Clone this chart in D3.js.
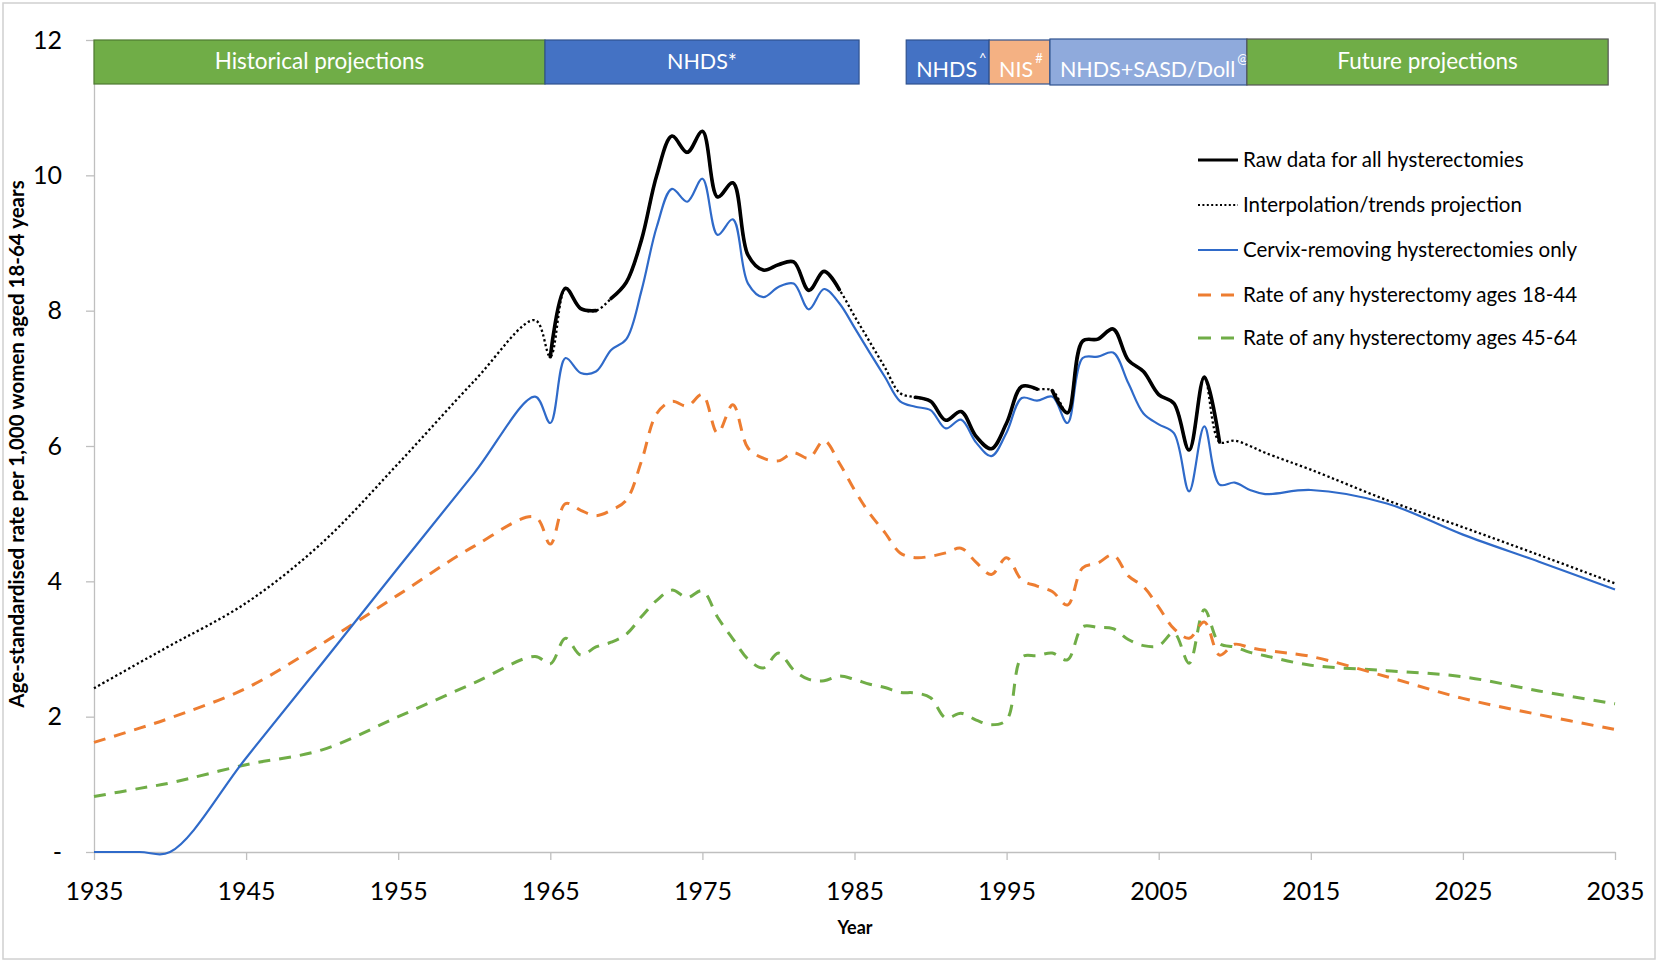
<!DOCTYPE html>
<html><head><meta charset="utf-8">
<script src="https://cdn.jsdelivr.net/npm/d3@7"></script>
<style>
body{margin:0;background:#fff;}
text{font-family:Lato,"Open Sans",sans-serif;}
</style></head><body>
<svg id="chart" width="1658" height="962"></svg>
<script>
// ---------- DATA ----------
const years = [1935,1938,1940,1945,1950,1955,1960,1964,
  1965,1966,1967,1968,1969,1970,1971,1972,1973,1974,1975,1976,1977,1978,1979,1980,1981,1982,1983,1984,
  1985,1986,1987,1988,1989,1990,1991,1992,1993,1994,1995,1996,1997,1998,1999,2000,2001,2002,2003,2004,
  2005,2006,2007,2008,2009,2010,2011,2012,
  2015,2020,2025,2030,2035];

// Raw data / interpolation for all hysterectomies
const allHysterectomies = [2.42,2.8,3.05,3.68,4.57,5.74,6.96,7.86,
  7.32,8.33,8.03,8.0,8.18,8.42,9.05,10.0,10.58,10.34,10.65,9.68,9.89,8.82,8.6,8.68,8.72,8.3,8.58,8.31,
  7.92,7.54,7.16,6.78,6.72,6.66,6.38,6.51,6.14,5.96,6.34,6.88,6.84,6.82,6.49,7.55,7.58,7.73,7.27,7.1,
  6.76,6.63,5.94,7.02,6.06,6.08,6.0,5.9,
  5.65,5.2,4.8,4.39,3.97];

// Cervix-removing hysterectomies only
const cervixRemoving = [0,0,0,1.39,2.79,4.2,5.6,6.73,
  6.34,7.3,7.08,7.1,7.42,7.58,8.3,9.24,9.8,9.61,9.95,9.12,9.35,8.4,8.2,8.35,8.4,8.02,8.32,8.11,
  7.75,7.38,7.02,6.66,6.58,6.53,6.26,6.39,6.05,5.85,6.2,6.71,6.67,6.73,6.34,7.3,7.32,7.38,6.93,6.48,
  6.32,6.19,5.33,6.29,5.43,5.46,5.35,5.29,
  5.35,5.15,4.69,4.29,3.88];

// Rate of any hysterectomy ages 18-44
const ages18to44 = [1.62,1.83,1.98,2.42,3.08,3.8,4.52,4.95,
  4.55,5.15,5.05,4.97,5.05,5.2,5.78,6.48,6.66,6.59,6.76,6.19,6.61,5.97,5.82,5.78,5.9,5.82,6.08,5.75,
  5.35,5.0,4.72,4.42,4.35,4.37,4.42,4.49,4.28,4.1,4.35,4.02,3.93,3.85,3.65,4.2,4.27,4.39,4.08,3.92,
  3.62,3.3,3.16,3.4,2.91,3.07,3.02,2.98,
  2.89,2.59,2.27,2.03,1.81];

// Rate of any hysterectomy ages 45-64
const ages45to64 = [0.82,0.94,1.02,1.29,1.51,2.0,2.5,2.89,
  2.78,3.16,2.91,3.03,3.1,3.22,3.48,3.72,3.87,3.76,3.86,3.47,3.15,2.85,2.72,2.94,2.69,2.55,2.53,2.6,
  2.55,2.48,2.43,2.36,2.35,2.28,1.98,2.05,1.95,1.88,1.95,2.88,2.9,2.94,2.84,3.33,3.32,3.3,3.14,3.05,
  3.05,3.24,2.79,3.58,3.08,3.03,2.95,2.9,
  2.76,2.68,2.59,2.38,2.19];

// Year ranges where raw (observed) data exist for all hysterectomies
const rawSegments = [[1965,1968],[1969,1984],[1989,1997],[1998,2009]];

const xTickValues = [1935,1945,1955,1965,1975,1985,1995,2005,2015,2025,2035];
const yTickValues = [0,2,4,6,8,10,12];

// Data-source periods
const periodLabels = ["Historical projections","NHDS*","NHDS","NIS","NHDS+SASD/Doll","Future projections"];
const periodSups   = ["","","^","#","@",""];
const periodStart  = [1935,1964.65,1988.4,1993.85,1997.85,2010.8];
const periodEnd    = [1964.65,1985.3,1993.85,1997.85,2010.8,2034.55];

const legendLabels = ["Raw data for all hysterectomies","Interpolation/trends projection",
  "Cervix-removing hysterectomies only","Rate of any hysterectomy ages 18-44","Rate of any hysterectomy ages 45-64"];

// ---------- DRAWING ----------
const W = 1658, H = 962;
const svg = d3.select("#chart");
svg.append("rect").attr("x",3).attr("y",3).attr("width",W-6).attr("height",H-6)
  .attr("fill","#fff").attr("stroke","#D0D0D0").attr("stroke-width",1.5);

const x = d3.scaleLinear().domain([1935,2035]).range([94,1615]);
const y = d3.scaleLinear().domain([0,12]).range([852,40]);

const axisColor = "#BFBFBF";
// X axis
const gx = svg.append("g").attr("transform",`translate(0,${y(0)})`)
  .call(d3.axisBottom(x).tickValues(xTickValues).tickFormat(d3.format("d")).tickSize(8).tickSizeOuter(0).tickPadding(22));
gx.select(".domain").attr("stroke",axisColor).attr("stroke-width",1.3);
gx.selectAll(".tick line").attr("stroke",axisColor).attr("stroke-width",1.3);
gx.selectAll(".tick text").attr("font-size",25).attr("fill","#000").attr("font-family","Lato");

// Y axis
const gy = svg.append("g").attr("transform",`translate(${x(1935)},0)`)
  .call(d3.axisLeft(y).tickValues(yTickValues).tickFormat(d => d === 0 ? "-" : d).tickSize(8).tickSizeOuter(0).tickPadding(24));
gy.select(".domain").attr("stroke",axisColor).attr("stroke-width",1.3);
gy.selectAll(".tick line").attr("stroke",axisColor).attr("stroke-width",1.3);
gy.selectAll(".tick text").attr("font-size",25).attr("fill","#000").attr("font-family","Lato");

// Axis titles
svg.append("text").attr("x",855).attr("y",934).attr("text-anchor","middle")
  .attr("font-size",18).attr("font-weight","bold").text("Year");
svg.append("text").attr("transform","translate(24,444) rotate(-90)").attr("text-anchor","middle")
  .attr("font-size",20.5).attr("font-weight","bold")
  .text("Age-standardised rate per 1,000 women aged 18-64 years");

// Period boxes
const periodFill = ["#70AD47","#4472C4","#4472C4","#F4B183","#8FAADC","#70AD47"];
const periodStroke = ["#4E7A31","#2F528F","#2F528F","#2F528F","#2F528F","#555555"];
const periods = periodLabels.map((l,i)=>({label:l, sup:periodSups[i], s:periodStart[i], e:periodEnd[i], i}));
const pg = svg.append("g");
periods.forEach(p => {
  const lowText = p.sup !== "";
  const tall = p.i >= 4;
  pg.append("rect").attr("x",x(p.s)).attr("y",tall?39:40).attr("width",x(p.e)-x(p.s)).attr("height",tall?46:44)
    .attr("fill",periodFill[p.i]).attr("stroke",periodStroke[p.i]).attr("stroke-width",1.2);
  const t = pg.append("text").attr("fill","#fff").attr("font-size",lowText ? 21.5 : (p.i === 1 ? 21.5 : 22.5));
  if (!lowText) {
    t.attr("x",(x(p.s)+x(p.e))/2).attr("y",69).attr("text-anchor","middle").text(p.label);
  } else {
    t.attr("x",x(p.s)+10).attr("y",77).attr("text-anchor","start");
    t.append("tspan").text(p.label);
    t.append("tspan").attr("font-size",13).attr("dy",-14).attr("dx",2).text(p.sup);
  }
});

// Series
const idx = d3.range(years.length);
const lineOf = vals => d3.line()
  .x(i => x(years[i])).y(i => y(vals[i]))
  .curve(d3.curveCatmullRom.alpha(0.5));

const blue = "#2F6AC9";
const plot = svg.append("g").attr("fill","none");
plot.append("path").attr("d",lineOf(ages45to64)(idx))
  .attr("stroke","#70AD47").attr("stroke-width",3).attr("stroke-dasharray","12,9");
plot.append("path").attr("d",lineOf(ages18to44)(idx))
  .attr("stroke","#ED7D31").attr("stroke-width",3).attr("stroke-dasharray","12,9");
plot.append("path").attr("d",lineOf(cervixRemoving)(idx))
  .attr("stroke",blue).attr("stroke-width",2.2);
plot.append("path").attr("d",lineOf(allHysterectomies)(idx))
  .attr("stroke","#000").attr("stroke-width",2.3).attr("stroke-dasharray","2.3,2.6");
rawSegments.forEach(([a,b]) => {
  const seg = idx.filter(i => years[i] >= a && years[i] <= b);
  plot.append("path").attr("d",lineOf(allHysterectomies)(seg))
    .attr("stroke","#000").attr("stroke-width",3.6).attr("stroke-linecap","round");
});

// Legend
const legendStyles = [
  {stroke:"#000", w:3.2, dash:null},
  {stroke:"#000", w:2, dash:"2,2.4"},
  {stroke:blue, w:2.2, dash:null},
  {stroke:"#ED7D31", w:3, dash:"13,10"},
  {stroke:"#70AD47", w:3, dash:"13,10"}
];
const legendY = [160,205,250,295,338];
const lg = svg.append("g");
legendLabels.forEach((lab,i) => {
  const st = legendStyles[i];
  const ln = lg.append("line").attr("x1",1198).attr("x2",1238).attr("y1",legendY[i]).attr("y2",legendY[i])
    .attr("stroke",st.stroke).attr("stroke-width",st.w);
  if (st.dash) ln.attr("stroke-dasharray",st.dash);
  lg.append("text").attr("x",1243).attr("y",legendY[i]+7).attr("font-size",20.5).attr("fill","#000").text(lab);
});
</script>
</body></html>
